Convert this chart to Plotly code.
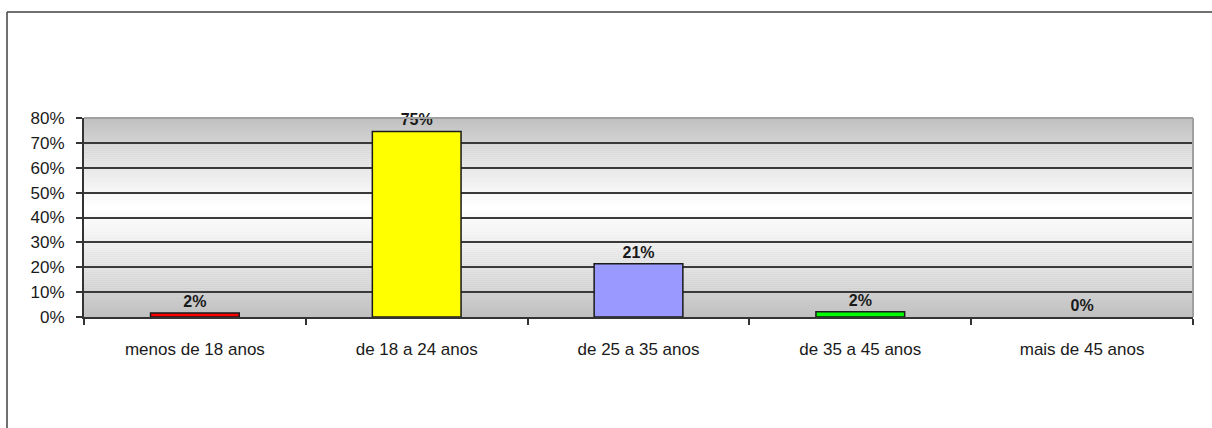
import plotly.graph_objects as go

categories = ["menos de 18 anos", "de 18 a 24 anos", "de 25 a 35 anos",
              "de 35 a 45 anos", "mais de 45 anos"]
values = [0.016, 0.746, 0.214, 0.021, 0.0]
bar_colors = ["#FF0000", "#FFFF00", "#9999FF", "#00FF00", "#808080"]
y_ticks = [0, 0.1, 0.2, 0.3, 0.4, 0.5, 0.6, 0.7, 0.8]
y_tick_labels = ["0%", "10%", "20%", "30%", "40%", "50%", "60%", "70%", "80%"]

FONT = "Liberation Sans, Arial, sans-serif"

line_widths = [1.5 if v > 0 else 0 for v in values]

fig = go.Figure(go.Bar(
    x=categories, y=values,
    marker=dict(color=bar_colors, line=dict(color="#1a1a1a", width=line_widths)),
    texttemplate="<b>%{y:.0%}</b>", textposition="outside",
    textfont=dict(family=FONT, size=16, color="#1a1a1a"),
    cliponaxis=False, width=0.4,
))

# gradient background of the plot area (grey at edges, white in the middle)
shapes = []
N = 100
for i in range(N):
    y0 = i / N
    y1 = (i + 1) / N
    yc = (y0 + y1) / 2
    c = 0.55
    if yc >= c:
        t = (yc - c) / (1 - c)
    else:
        t = (c - yc) / c
    t = min(1.0, t) ** 1.1
    g = int(round(255 - (255 - 192) * t))
    col = f"rgb({g},{g},{g})"
    shapes.append(dict(type="rect", xref="paper", yref="paper", x0=0, x1=1,
                       y0=y0, y1=y1, fillcolor=col, line=dict(width=0),
                       layer="below"))
# plot area top / right border
shapes.append(dict(type="line", xref="paper", yref="paper", x0=0, x1=1, y0=1, y1=1,
                   line=dict(color="#a0a0a0", width=2), layer="above"))
shapes.append(dict(type="line", xref="paper", yref="paper", x0=1, x1=1, y0=0, y1=1,
                   line=dict(color="#a0a0a0", width=2), layer="above"))
# chart frame (top and left edges visible)
top_y = (317 - 12) / 199
left_x = (7 - 84) / 1109
shapes.append(dict(type="line", xref="paper", yref="paper", x0=left_x, x1=1.2,
                   y0=top_y, y1=top_y, line=dict(color="#404040", width=1.5)))
shapes.append(dict(type="line", xref="paper", yref="paper", x0=left_x, x1=left_x,
                   y0=top_y, y1=-0.6, line=dict(color="#404040", width=1.5)))

fig.update_layout(
    width=1212, height=428,
    margin=dict(l=84, r=19, t=118, b=111),
    paper_bgcolor="white", plot_bgcolor="rgba(0,0,0,0)",
    showlegend=False, shapes=shapes, bargap=0.6,
    font=dict(family=FONT, size=16, color="#1a1a1a"),
)
fig.update_yaxes(
    range=[0, 0.8], tickvals=y_ticks, ticktext=y_tick_labels,
    showgrid=True, gridcolor="#3a3a3a", gridwidth=2,
    zeroline=False, showline=True, linecolor="#333333", linewidth=2,
    ticks="outside", ticklen=6, tickcolor="#333333", tickwidth=2,
    ticklabelstandoff=8,
    tickfont=dict(family=FONT, size=17, color="#1a1a1a"),
)
fig.update_xaxes(
    showline=True, linecolor="#333333", linewidth=2,
    ticks="outside", tickson="boundaries", ticklen=6, tickcolor="#333333",
    tickwidth=2, showgrid=False, ticklabelstandoff=16,
    tickfont=dict(family=FONT, size=17, color="#1a1a1a"),
)

fig.write_html("out.html",
               config={"displayModeBar": False},
               post_script="document.body.style.margin='0';"
                           "document.body.style.padding='0';")
